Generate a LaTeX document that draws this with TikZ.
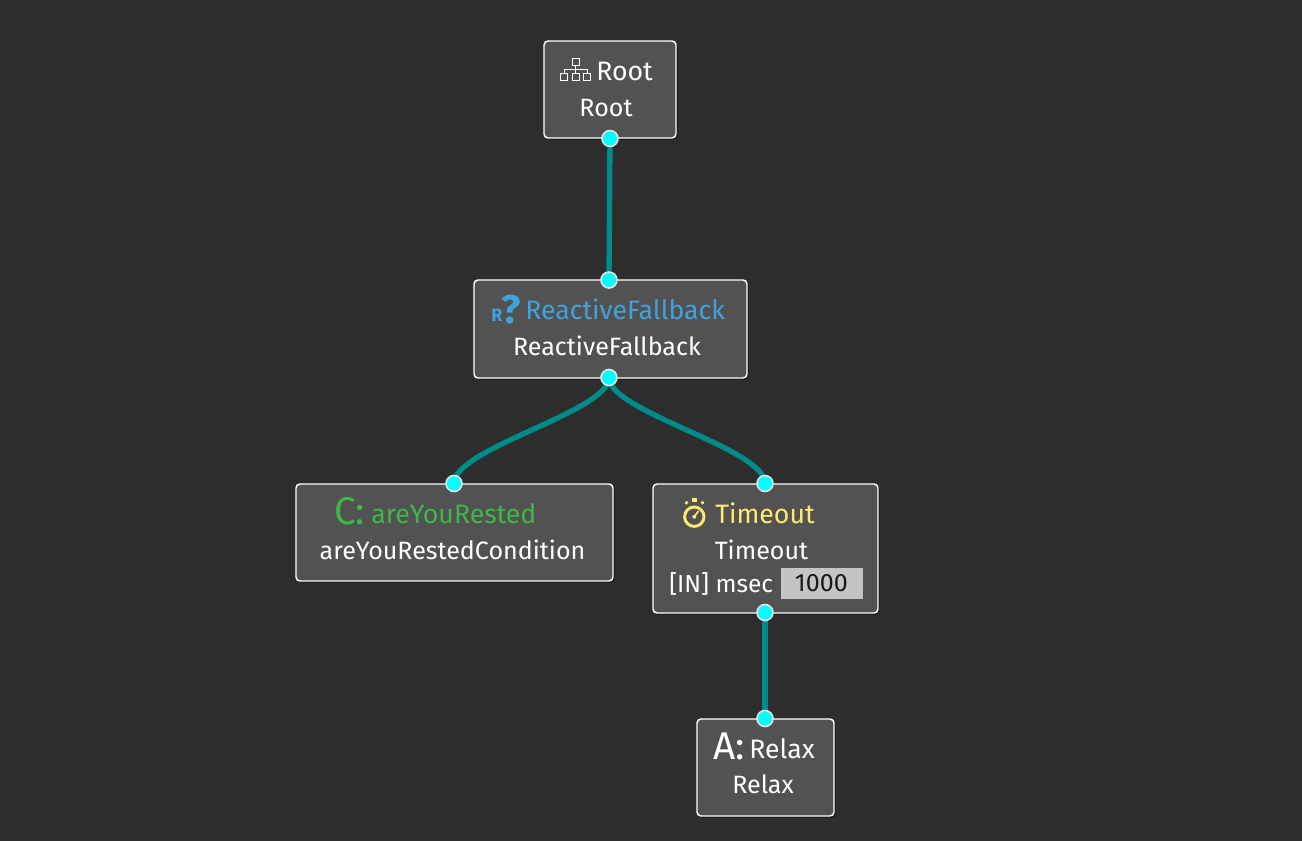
\documentclass[tikz,border=0pt]{standalone}
\usepackage{fontspec}
\setmainfont{Fira Sans}
\usetikzlibrary{backgrounds,shadows}
\definecolor{canvas}{HTML}{2D2D2D}
\definecolor{boxfill}{HTML}{525252}
\definecolor{wire}{HTML}{008B8B}
\definecolor{portfill}{HTML}{00FFFF}
\definecolor{fbblue}{HTML}{3FA2DC}
\definecolor{condgreen}{HTML}{3DB846}
\definecolor{decoyellow}{HTML}{FFEA70}
\definecolor{valuefill}{HTML}{C4C4C4}
\tikzset{
  box/.style={draw=white, fill=boxfill, line width=1.1pt, rounded corners=3pt, inner sep=0pt,
    drop shadow={shadow xshift=1.2pt, shadow yshift=-1.2pt, opacity=0.45, fill=black}},
  port/.style={draw=white!90!black, fill=portfill, shape=circle, line width=1.2pt, minimum size=12pt, inner sep=0pt},
  wireline/.style={draw=wire, line width=4pt},
  nametext/.style={text=white, inner sep=0pt, font=\fontsize{18.8}{20}\selectfont},
  titletext/.style={inner sep=0pt, font=\fontsize{20}{22}\selectfont},
  bigmark/.style={inner sep=0pt, font=\fontsize{29}{30}\selectfont},
  tree/.style={draw=white, line width=0.7pt, shape=rectangle, minimum size=5.2pt, inner sep=0pt}
}
\begin{document}
\begin{tikzpicture}[x=0.75pt, y=-0.75pt]
  \useasboundingbox (0,0) rectangle (1302,841);

  % Boxes
  \node[box, minimum width=99pt, minimum height=72.75pt] (root) at (610,89.5) {};
  \node[box, minimum width=204.75pt, minimum height=73.5pt] (fallback) at (610.5,329) {};
  \node[box, minimum width=237.75pt, minimum height=72.75pt] (rested) at (454.5,532.5) {};
  \node[box, minimum width=168.75pt, minimum height=96.75pt] (timeout) at (765.5,548.5) {};
  \node[box, minimum width=102.75pt, minimum height=72.75pt] (relax) at (765.5,767.5) {};

  % Ports
  \node[port] (rootout) at (610,138.5) {};
  \node[port] (fbin) at (609,280) {};
  \node[port] (fbout) at (609,377.5) {};
  \node[port] (restedin) at (454,483.5) {};
  \node[port] (toin) at (765,483.5) {};
  \node[port] (toout) at (765,612.5) {};
  \node[port] (relaxin) at (765,718.5) {};

  % Wires
  \begin{scope}[on background layer]
    \fill[canvas] (0,0) rectangle (1302,841);
    \draw[wireline] (rootout) -- (fbin);
    \draw[wireline] (fbout.center) .. controls (609,412) and (454,448) .. (restedin.center);
    \draw[wireline] (fbout.center) .. controls (609,412) and (765,448) .. (toin.center);
    \draw[wireline] (toout) -- (relaxin);
  \end{scope}

  % Root
  \node[tree] (t0) at (575.5,62) {};
  \node[tree] (t1) at (564,77) {};
  \node[tree] (t2) at (575.5,77) {};
  \node[tree] (t3) at (587,77) {};
  \coordinate (tbar) at (575.5,69.5);
  \draw[white, line width=0.7pt] (t0) -- (t2);
  \draw[white, line width=0.7pt] (t1.north) |- (tbar) -| (t3.north);
  \node[titletext, text=white, anchor=base west] (roottitle) at (596,81) {Root};
  \node[nametext] (rootname) at (606,108) {Root};

  % ReactiveFallback
  \node[inner sep=0pt, text=fbblue, font=\bfseries\fontsize{30}{30}\selectfont] (fbmark) at (511.5,310) {?};
  \node[inner sep=0pt, text=fbblue, font=\bfseries\fontsize{13.5}{15}\selectfont] (fbr) at (497,315.5) {R};
  \node[titletext, text=fbblue, anchor=base west] (fbtitle) at (525,320) {ReactiveFallback};
  \node[nametext] (fbname) at (607,346) {ReactiveFallback};

  % areYouRested
  \node[bigmark, text=condgreen, anchor=base west] (cmark) at (334,524) {C:};
  \node[titletext, text=condgreen, anchor=base west] (restedtitle) at (371,523) {areYouRested};
  \node[nametext] (restedname) at (452.5,549.5) {areYouRestedCondition};

  % Timeout
  \begin{scope}[decoyellow]
    \draw[line width=2.2pt] (694.3,516.7) circle (9.7);
    \fill (694.3,516.7) circle (2);
    \draw[line width=1.2pt] (694.3,516.7) -- (698.5,511);
    \draw[line width=2.6pt] (692,500) -- (697,500);
    \draw[line width=2.2pt] (685.5,502) -- (687.5,503.5);
    \draw[line width=2.2pt] (703.5,502) -- (701.5,503.5);
  \end{scope}
  \node[titletext, text=decoyellow, anchor=base west] (totitle) at (715,523) {Timeout};
  \node[nametext] (toname) at (761.5,549.5) {Timeout};
  \node[nametext, anchor=base west, font=\fontsize{18.4}{20}\selectfont] (msec) at (669,592) {[IN] msec};
  \node[fill=valuefill, text=black!90, inner sep=0pt, minimum width=61.5pt, minimum height=23.25pt, font=\fontsize{18.8}{20}\selectfont] (msecval) at (822,583.5) {\kern-1pt 1000};

  % Relax
  \node[bigmark, text=white, anchor=base west] (amark) at (713,759) {A:};
  \node[titletext, text=white, anchor=base west] (relaxtitle) at (749,758) {Relax};
  \node[nametext] (relaxname) at (763,784.5) {Relax};
\end{tikzpicture}
\end{document}
